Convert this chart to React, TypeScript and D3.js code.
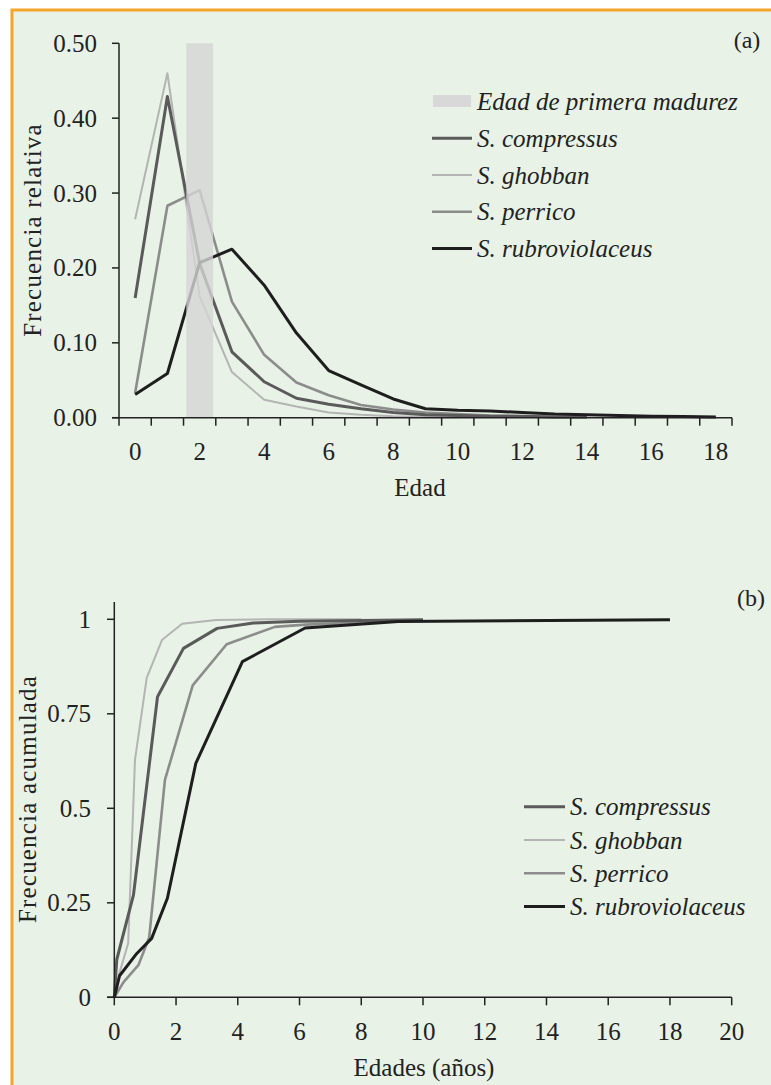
import React from "react";
import * as d3 from "d3";

// edades (clases) para la frecuencia relativa
const ageClasses = [0, 1, 2, 3, 4, 5, 6, 7, 8, 9, 10, 11, 12, 13, 14, 15, 16, 17, 18];
const ageLabels = ["0", "2", "4", "6", "8", "10", "12", "14", "16", "18"];
const maturityAge = 2;
const maturityValue = 0.5;

const relCompressus = [0.16, 0.429, 0.206, 0.088, 0.048, 0.026, 0.018, 0.012, 0.007, 0.004, 0.003, 0.002, 0.002, 0.001, 0.001];
const relGhobban = [0.265, 0.46, 0.162, 0.061, 0.024, 0.015, 0.007, 0.004, 0.002, 0.001, 0.0005];
const relPerrico = [0.033, 0.283, 0.304, 0.155, 0.084, 0.047, 0.03, 0.017, 0.011, 0.007, 0.005, 0.003, 0.002, 0.001, 0.001];
const relRubro = [0.031, 0.059, 0.207, 0.225, 0.177, 0.113, 0.063, 0.044, 0.025, 0.012, 0.01, 0.009, 0.007, 0.005, 0.004, 0.003, 0.002, 0.0015, 0.001];

const relTicks = [0, 0.1, 0.2, 0.3, 0.4, 0.5];

// frecuencia acumulada: [edad, valor]
const cumCompressus = [[0, 0], [0.08, 0.1], [0.62, 0.27], [1.4, 0.795], [2.24, 0.923], [3.33, 0.976], [4.5, 0.99], [6, 0.995], [10, 0.999]];
const cumGhobban = [[0, 0], [0.15, 0.06], [0.45, 0.143], [0.67, 0.628], [1.05, 0.845], [1.55, 0.946], [2.2, 0.988], [3.3, 0.998], [5, 1], [8, 1]];
const cumPerrico = [[0, 0], [0.3, 0.04], [0.78, 0.085], [1.13, 0.158], [1.64, 0.575], [2.54, 0.825], [3.64, 0.934], [5.2, 0.98], [6.2, 0.986], [10, 0.997]];
const cumRubro = [[0, 0], [0.17, 0.057], [0.73, 0.116], [1.21, 0.156], [1.72, 0.262], [2.64, 0.619], [4.15, 0.888], [6.18, 0.977], [9.2, 0.994], [18, 0.999]];

const cumXTicks = [0, 2, 4, 6, 8, 10, 12, 14, 16, 18, 20];
const cumYTicks = [0, 0.25, 0.5, 0.75, 1];

const speciesNames = ["S. compressus", "S. ghobban", "S. perrico", "S. rubroviolaceus"];
const speciesColors = ["#5a5a5a", "#b4b4b4", "#8c8c8c", "#1e1e1e"];
const speciesWidths = [3, 2, 2.6, 3];

const FONT = "'Liberation Serif', 'Times New Roman', serif";
const BG = "#e8f2e6";

// text with the font set inline (page css would override an inherited one)
const T = ({ italic = false, size = 24, spacing = 0, children, ...rest }) => (
  <text fill="#222" dominantBaseline="central" {...rest}
    style={{ fontFamily: FONT, fontSize: size, fontStyle: italic ? "italic" : "normal", letterSpacing: spacing }}>
    {children}
  </text>
);

export default function App() {
  // ---- panel (a)
  const xA = d3.scaleBand().domain(ageClasses.map(String)).range([119, 732]).padding(0);
  const yA = d3.scaleLinear().domain([0, 0.5]).range([417.7, 43.3]);
  const bw = xA.bandwidth();
  const cx = (i) => xA(String(ageClasses[i])) + bw / 2;
  const lineA = d3.line().x((d, i) => cx(i)).y((d) => yA(d));
  const relSeries = [relCompressus, relGhobban, relPerrico, relRubro];
  const drawOrderA = [1, 2, 0, 3];

  // ---- panel (b)
  const xB = d3.scaleLinear().domain([0, 20]).range([114.3, 731.7]);
  const yB = d3.scaleLinear().domain([0, 1]).range([997.3, 619.3]);
  const lineB = d3.line().x((d) => xB(d[0])).y((d) => yB(d[1]));
  const cumSeries = [cumCompressus, cumGhobban, cumPerrico, cumRubro];
  const drawOrderB = [1, 2, 0, 3];

  const axisColor = "#222";

  return (
    <svg width={771} height={1085} style={{ position: "absolute", left: 0, top: 0 }}>
      <rect x={0} y={0} width={771} height={1085} fill="#ffffff" />
      <rect x={12} y={10} width={800} height={1100} fill={BG} stroke="#f5a42c" strokeWidth={3} />

      {/* ===== (a) ===== */}
      {drawOrderA.map((k) => (
        <path key={"a" + k} d={lineA(relSeries[k])} fill="none" stroke={speciesColors[k]}
          strokeWidth={speciesWidths[k]} strokeLinejoin="round" />
      ))}
      <rect x={xA(String(maturityAge)) + bw * 0.085} width={bw * 0.83}
        y={yA(maturityValue)} height={yA(0) - yA(maturityValue)} fill="#d4d4d4" opacity={0.8} />

      <line x1={119} x2={119} y1={yA(0.5)} y2={yA(0)} stroke={axisColor} strokeWidth={1.5} />
      <line x1={112} x2={732} y1={yA(0)} y2={yA(0)} stroke={axisColor} strokeWidth={1.5} />
      {relTicks.map((t) => (
        <g key={"ya" + t}>
          <line x1={112} x2={119} y1={yA(t)} y2={yA(t)} stroke={axisColor} strokeWidth={1.5} />
          <T x={97} y={yA(t)} textAnchor="end" size={25}>{t.toFixed(2)}</T>
        </g>
      ))}
      {ageClasses.concat([19]).map((c, i) => (
        <line key={"xt" + i} x1={119 + i * bw} x2={119 + i * bw} y1={yA(0)} y2={yA(0) + 8}
          stroke={axisColor} strokeWidth={1.5} />
      ))}
      {ageLabels.map((l) => (
        <T key={"xl" + l} x={xA(l) + bw / 2} y={451} textAnchor="middle" size={25}>{l}</T>
      ))}
      <T x={420} y={487} textAnchor="middle" size={25}>Edad</T>
      <T transform="translate(32,230) rotate(-90)" textAnchor="middle" size={25} spacing={1.2}>Frecuencia relativa</T>
      <T x={747} y={40} textAnchor="middle" size={24}>(a)</T>

      {/* legend (a) */}
      <rect x={433} y={95} width={38} height={12} fill="#d8d8d8" />
      <T x={477} y={101} size={25} italic>Edad de primera madurez</T>
      {speciesNames.map((n, i) => (
        <g key={"la" + n}>
          <line x1={432} x2={472} y1={138.3 + i * 36.7} y2={138.3 + i * 36.7}
            stroke={speciesColors[i]} strokeWidth={speciesWidths[i]} />
          <T x={477} y={138.3 + i * 36.7} size={25} italic>{n}</T>
        </g>
      ))}

      {/* ===== (b) ===== */}
      {drawOrderB.map((k) => (
        <path key={"b" + k} d={lineB(cumSeries[k])} fill="none" stroke={speciesColors[k]}
          strokeWidth={speciesWidths[k]} strokeLinejoin="round" />
      ))}
      <line x1={114.3} x2={114.3} y1={602} y2={yB(0)} stroke={axisColor} strokeWidth={1.5} />
      <line x1={107} x2={xB(20)} y1={yB(0)} y2={yB(0)} stroke={axisColor} strokeWidth={1.5} />
      {cumYTicks.map((t) => (
        <g key={"yb" + t}>
          <line x1={107} x2={114.3} y1={yB(t)} y2={yB(t)} stroke={axisColor} strokeWidth={1.5} />
          <T x={91} y={yB(t)} textAnchor="end" size={25}>{String(t)}</T>
        </g>
      ))}
      {cumXTicks.map((t) => (
        <g key={"xb" + t}>
          <line x1={xB(t)} x2={xB(t)} y1={yB(0)} y2={yB(0) + 8} stroke={axisColor} strokeWidth={1.5} />
          <T x={xB(t)} y={1031.7} textAnchor="middle" size={25}>{t}</T>
        </g>
      ))}
      <T x={424} y={1067} textAnchor="middle" size={25}>Edades (años)</T>
      <T transform="translate(27,799) rotate(-90)" textAnchor="middle" size={25} spacing={1.2}>Frecuencia acumulada</T>
      <T x={751} y={598} textAnchor="middle" size={24}>(b)</T>

      {/* legend (b) */}
      {speciesNames.map((n, i) => (
        <g key={"lb" + n}>
          <line x1={524} x2={565} y1={806.7 + i * 33.3} y2={806.7 + i * 33.3}
            stroke={speciesColors[i]} strokeWidth={speciesWidths[i]} />
          <T x={570} y={806.7 + i * 33.3} size={25} italic>{n}</T>
        </g>
      ))}
    </svg>
  );
}
